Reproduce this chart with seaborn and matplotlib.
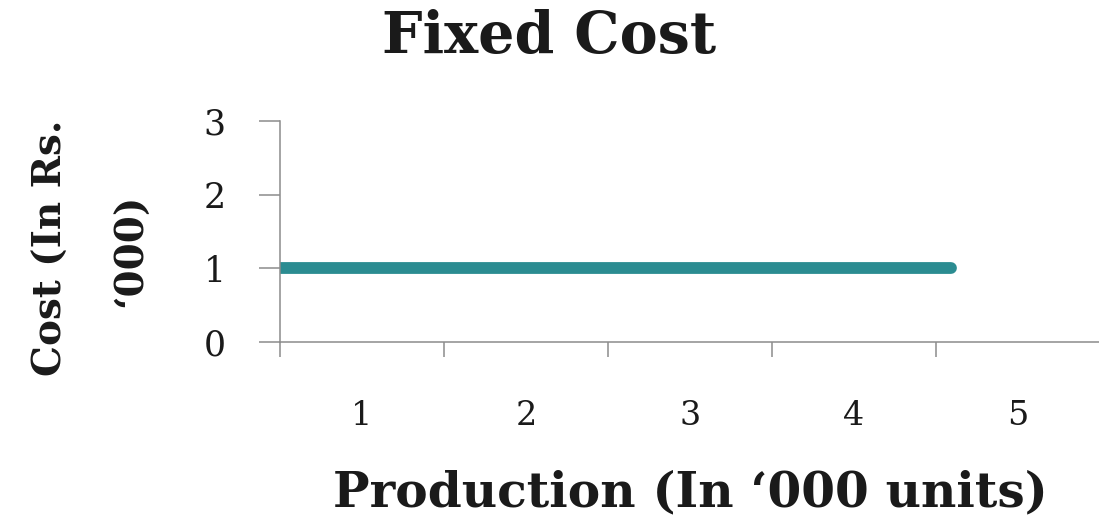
import matplotlib
matplotlib.use("Agg")
import matplotlib.pyplot as plt
import seaborn as sns
import pandas as pd

# Fixed cost stays flat as production grows
production = [0.0, 4.09]          # in '000 units
fixed_cost = [1.0, 1.0]           # in Rs. '000
x_tick_labels = ["1", "2", "3", "4", "5"]
y_ticks = [0, 1, 2, 3]

sns.set_theme(style="white")
plt.rcParams["font.family"] = ["DejaVu Serif"]

axis_grey = "#8c8c8c"
text_col = "#1a1a1a"

fig = plt.figure(figsize=(10.99, 5.16), dpi=100)
ax = fig.add_axes([0.2548, 0.3372, 0.7461, 0.4283])

df = pd.DataFrame({"production": production, "cost": fixed_cost})
sns.lineplot(data=df, x="production", y="cost", ax=ax, color="#2b8c91",
             linewidth=8.5, solid_capstyle="round")

ax.set_xlim(0, 5)
ax.set_ylim(0, 3)
ax.set_xlabel("")
ax.set_ylabel("")

# category boundaries carry the tick marks, labels sit in between
ax.set_xticks(range(len(x_tick_labels) + 1))
ax.set_xticklabels([])
ax.set_xticks([i + 0.5 for i in range(len(x_tick_labels))],
              labels=x_tick_labels, minor=True)
ax.set_yticks(y_ticks)
ax.set_yticklabels([str(v) for v in y_ticks])

ax.tick_params(axis="x", which="major", bottom=True, direction="out",
               length=11, width=1.1, color=axis_grey)
ax.tick_params(axis="x", which="minor", bottom=True, length=0, pad=42,
               labelsize=24, labelcolor=text_col)
ax.tick_params(axis="y", which="major", left=True, direction="out",
               length=15, width=1.1, color=axis_grey, pad=24,
               labelsize=25, labelcolor=text_col)

for side in ("top", "right"):
    ax.spines[side].set_visible(False)
for side in ("left", "bottom"):
    ax.spines[side].set_color(axis_grey)
    ax.spines[side].set_linewidth(1.1)

fig.text(0.5, 0.897, "Fixed Cost", ha="center", va="baseline",
         fontsize=41, fontweight="bold", color=text_col)
fig.text(0.6285, 0.0194, "Production (In \u2018000 units)", ha="center",
         va="baseline", fontsize=35, fontweight="bold", color=text_col)
fig.text(0.046, 0.519, "Cost (In Rs.", rotation=90, ha="center",
         va="center", fontsize=28, fontweight="bold", color=text_col)
fig.text(0.119, 0.514, "\u2018000)", rotation=90, ha="center",
         va="center", fontsize=28, fontweight="bold", color=text_col)

fig.savefig("out.png", dpi=100, facecolor="white")
